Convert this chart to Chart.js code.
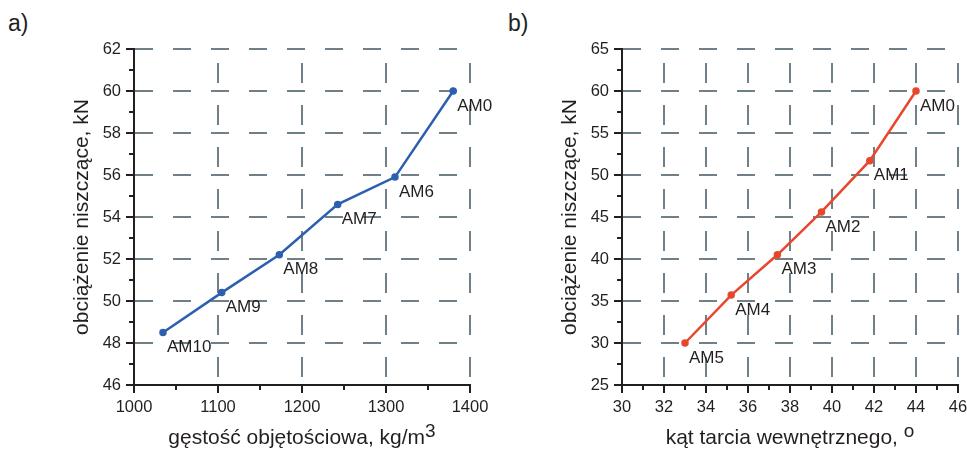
<!DOCTYPE html>
<html>
<head>
<meta charset="utf-8">
<script src="https://cdn.jsdelivr.net/npm/chart.js@4.4.1/dist/chart.umd.min.js"></script>
<style>
  body {
    margin: 0;
    width: 967px;
    height: 452px;
    overflow: hidden;
    background: #fff;
    font-family: "Liberation Sans", Arial, sans-serif;
  }
  .panel { position: absolute; top: 0; width: 510px; height: 452px; }
  .tag { position: absolute; top: 12px; font-size: 23px; line-height: 23px; color: #231f20; }
</style>
</head>
<body>

<div class="tag" style="left:8px">a)</div>
<div class="tag" style="left:508px">b)</div>

<div class="panel" style="left:0"><canvas id="chartA" width="510" height="452"></canvas></div>
<div class="panel" style="left:488px"><canvas id="chartB" width="510" height="452"></canvas></div>

<script>
// ---------------- DATA ----------------

const densityValues = [1034.5, 1104.4, 1173, 1242.5, 1310.7, 1380];
const densityLoads = [48.5, 50.4, 52.2, 54.6, 55.9, 60];
const densityNames = ["AM10", "AM9", "AM8", "AM7", "AM6", "AM0"];

const angleValues = [33, 35.2, 37.4, 39.5, 41.8, 44];
const angleLoads = [30, 35.7, 40.5, 45.6, 51.7, 60];
const angleNames = ["AM5", "AM4", "AM3", "AM2", "AM1", "AM0"];

// [min, max, minor step, labelled step]
const densityAxis = [1000, 1400, 50, 100];
const loadAxisA = [46, 62, 1, 2];
const angleAxis = [30, 46, 1, 2];
const loadAxisB = [25, 65, 2.5, 5];

const loadTitle = "obciążenie niszczące, kN";
const densityTitle = ["gęstość objętościowa, kg/m", "3"];
const angleTitle = ["kąt tarcia wewnętrznego, ", "o"];

const FONT = '"Liberation Sans", Arial, sans-serif';
const TEXT = "#231f20";
const GRID = "#6f8089";

Chart.defaults.font.family = FONT;


// ---------------- PLUGINS ----------------

// short tick marks outside the axes, longer at labelled values
const tickMarks = {
  id: "tickMarks",
  afterDraw(chart) {
    const ctx = chart.ctx;
    const area = chart.chartArea;
    ctx.save();
    ctx.strokeStyle = TEXT;
    ctx.lineWidth = 2;
    ["x", "y"].forEach(id => {
      const scale = chart.scales[id];
      scale.ticks.forEach(t => {
        const len = t.label === "" ? 5 : 8;
        const p = scale.getPixelForValue(t.value);
        ctx.beginPath();
        if (id === "x") {
          ctx.moveTo(p, area.bottom);
          ctx.lineTo(p, area.bottom + len);
        } else {
          ctx.moveTo(area.left - len, p);
          ctx.lineTo(area.left, p);
        }
        ctx.stroke();
      });
    });
    ctx.restore();
  }
};

// AMx names next to each point
const pointNames = {
  id: "pointNames",
  afterDatasetsDraw(chart) {
    const meta = chart.getDatasetMeta(0);
    const names = chart.data.datasets[0].names;
    const ctx = chart.ctx;
    ctx.save();
    ctx.font = "17px " + FONT;
    ctx.fillStyle = TEXT;
    ctx.textAlign = "left";
    ctx.textBaseline = "middle";
    meta.data.forEach((pt, i) => {
      ctx.fillText(names[i], pt.x + 4, pt.y + 15);
    });
    ctx.restore();
  }
};

// x axis caption with a raised unit
const axisCaption = {
  id: "axisCaption",
  afterDraw(chart, args, opts) {
    const main = opts.text[0];
    const sup = opts.text[1];
    const ctx = chart.ctx;
    const area = chart.chartArea;
    ctx.save();
    ctx.fillStyle = TEXT;
    ctx.textAlign = "left";
    ctx.textBaseline = "alphabetic";
    ctx.font = "21px " + FONT;
    const w1 = ctx.measureText(main).width;
    ctx.font = "19px " + FONT;
    const w2 = ctx.measureText(sup).width;
    const x = (area.left + area.right) / 2 - (w1 + w2) / 2;
    const y = chart.height - 8;
    ctx.font = "21px " + FONT;
    ctx.fillText(main, x, y);
    ctx.font = "19px " + FONT;
    ctx.fillText(sup, x + w1, y - 7);
    ctx.restore();
  }
};


// ---------------- AXES ----------------

function axisOptions(range, dir) {

  const min = range[0];
  const max = range[1];
  const step = range[2];
  const major = range[3];

  const isMajor = v => Math.abs(v / major - Math.round(v / major)) < 1e-6;

  return {
    type: "linear",
    min: min,
    max: max,
    ticks: {
      stepSize: step,
      autoSkip: false,
      maxRotation: 0,
      padding: 13,
      color: TEXT,
      font: { size: 16.5 },
      callback: v => isMajor(v) ? v : ""
    },
    grid: {
      drawTicks: false,
      lineWidth: 2,
      color: c => (c.tick && isMajor(c.tick.value) && c.tick.value !== min)
        ? GRID
        : "rgba(0,0,0,0)"
    },
    border: {
      color: TEXT,
      width: 2,
      dash: dir === "x" ? [20, 22] : [18, 20],
      dashOffset: dir === "x" ? 28 : 0
    },
    title: dir === "y"
      ? {
          display: true,
          text: loadTitle,
          color: TEXT,
          font: { size: 21 },
          padding: { top: 70, bottom: 0 }
        }
      : { display: false },
    afterFit: s => {
      if (dir === "x") s.height = 67;
      else s.width = 134;
    }
  };
}


// ---------------- CHARTS ----------------

function makeChart(id, xs, ys, names, color, xAxis, yAxis, caption) {

  const points = xs.map((x, i) => ({ x: x, y: ys[i] }));

  return new Chart(document.getElementById(id), {

    type: "scatter",

    data: {
      datasets: [
        {
          data: points,
          names: names,
          showLine: true,
          borderColor: color,
          backgroundColor: color,
          borderWidth: 2.5,
          pointRadius: 2.5,
          pointHoverRadius: 2.5
        }
      ]
    },

    options: {
      responsive: false,
      animation: false,
      events: [],
      layout: { padding: { left: 0, top: 49, right: 40, bottom: 0 } },
      plugins: {
        legend: { display: false },
        tooltip: { enabled: false },
        axisCaption: { text: caption }
      },
      scales: {
        x: axisOptions(xAxis, "x"),
        y: axisOptions(yAxis, "y")
      }
    },

    plugins: [tickMarks, pointNames, axisCaption]
  });
}

makeChart("chartA", densityValues, densityLoads, densityNames, "#2c5fb0",
  densityAxis, loadAxisA, densityTitle);

makeChart("chartB", angleValues, angleLoads, angleNames, "#e8472c",
  angleAxis, loadAxisB, angleTitle);
</script>
</body>
</html>
